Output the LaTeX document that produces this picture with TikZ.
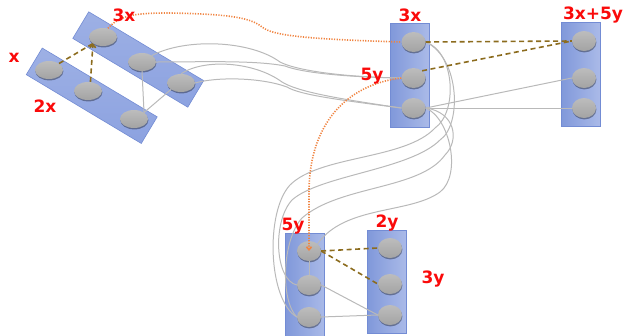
\documentclass[tikz,border=0pt]{standalone}
\usepackage{fontspec}
\setmainfont{DejaVu Sans}
\usetikzlibrary{shapes.geometric,arrows.meta,shadows}
\definecolor{barL}{RGB}{128,152,218}
\definecolor{barR}{RGB}{170,186,232}
\definecolor{barT}{RGB}{140,162,224}
\definecolor{barB}{RGB}{115,140,212}
\definecolor{olv}{RGB}{140,108,30}
\definecolor{org}{RGB}{240,132,66}
\definecolor{gln}{RGB}{185,185,185}
\definecolor{lbl}{RGB}{250,10,10}
\tikzset{
  bar/.style={rectangle, draw=barB, line width=0.6pt, left color=barL, right color=barR, inner sep=0pt},
  vbar/.style={bar, minimum width=39pt, minimum height=104pt},
  tbar/.style={rectangle, draw=barB, line width=0.6pt, top color=barT!85!white, bottom color=barT, inner sep=0pt,
     minimum width=134pt, minimum height=31pt, rotate=-30.9},
  cell/.style={ellipse, inner sep=0pt, top color=gray!52, bottom color=gray!72, draw=none,
     drop shadow={shadow xshift=0.4pt, shadow yshift=-1.4pt, opacity=0.35, fill=black}},
  tcell/.style={cell, minimum width=28pt, minimum height=18pt},
  vcell/.style={cell, minimum width=24pt, minimum height=20pt},
  lab/.style={text=lbl, font=\bfseries\fontsize{17}{17}\selectfont, inner sep=0pt},
  dsh/.style={draw=olv, line width=1.6pt, dash pattern=on 5pt off 3.5pt},
  dot/.style={draw=org, line width=1.6pt, dash pattern=on 1.2pt off 1.4pt},
  gl/.style={draw=gln, line width=1pt},
}
\begin{document}
\begin{tikzpicture}[x=1pt,y=-1pt]
\useasboundingbox (0,0) rectangle (624,335);
% bars
\node[tbar] (Abar) at (91.75,95.75) {};
\node[tbar] (Bbar) at (138.25,59.5) {};
\node[vbar] (Cbar) at (409.5,75) {};
\node[vbar] (Dbar) at (580.5,74.5) {};
\node[vbar, minimum height=108pt] (Ebar) at (305,287) {};
\node[vbar, minimum height=103pt] (Fbar) at (386.5,281.5) {};
% cells
\node[tcell] (A1) at (49,70) {};
\node[tcell] (A2) at (88,91) {};
\node[tcell] (A3) at (134,119) {};
\node[tcell] (B1) at (103,37) {};
\node[tcell] (B2) at (142,62) {};
\node[tcell] (B3) at (181,83) {};
\node[vcell] (C1) at (413.5,42) {};
\node[vcell] (C2) at (413.5,78) {};
\node[vcell] (C3) at (413.5,108) {};
\node[vcell] (D1) at (584,41) {};
\node[vcell] (D2) at (584,78) {};
\node[vcell] (D3) at (584,108) {};
\node[vcell] (E1) at (309,251) {};
\node[vcell] (E2) at (309,285) {};
\node[vcell] (E3) at (309,317) {};
\node[vcell] (F1) at (390,248) {};
\node[vcell] (F2) at (390,284) {};
\node[vcell] (F3) at (390,315) {};
% gray connections
\draw[gl] (A3.north east) -- (B2.south);
\draw[gl] (A3.north east) -- (B3.south west);
\draw[gl] (B2.north east) .. controls (185,38) and (250,40) .. (280,62) .. controls (295,70) and (340,77) .. (C2.west);
\draw[gl] (B2.east) .. controls (200,62) and (255,60) .. (285,66) .. controls (300,72) and (340,77) .. (C2.west);
\draw[gl] (B3.north) .. controls (205,58) and (255,62) .. (282,82) .. controls (298,92) and (340,99) .. (C3.west);
\draw[gl] (B3.east) .. controls (215,77) and (260,77) .. (287,87) .. controls (300,95) and (340,100) .. (C3.west);
\draw[gl] (C3.east) -- (D2.west);
\draw[gl] (C3.east) -- (D3.west);
\draw[gl] (C1.east) .. controls (455,52) and (458,112) .. (435,128) .. controls (405,160) and (320,155) .. (290,185) .. controls (265,212) and (268,300) .. (E3.west);
\draw[gl] (C1.east) .. controls (460,58) and (462,125) .. (440,140) .. controls (410,170) and (320,175) .. (292,200) .. controls (272,222) and (275,280) .. (E2.west);
\draw[gl] (C3.east) .. controls (455,112) and (460,140) .. (445,155) .. controls (420,190) and (340,185) .. (302,218) .. controls (282,240) and (280,300) .. (E3.west);
\draw[gl] (C3.east) .. controls (450,118) and (462,175) .. (440,192) .. controls (410,214) and (345,205) .. (E1.north east);
\draw[gl] (E1) -- (E2);
\draw[gl] (E2.east) -- (F3.west);
\draw[gl] (E3.east) -- (F3.west);
% olive dashed
\draw[dsh] (A1.north east) -- (B1.south west);
\draw[dsh, -{Straight Barb[length=3pt,width=6pt]}] (A2.75) -- (B1.south west);
\draw[dsh] (C1.east) -- (D1.west);
\draw[dsh] (C2.north east) -- (D1.west);
\draw[dsh] (E1.east) -- (F1.west);
\draw[dsh] (E1.east) -- (F2.west);
% orange dotted
\draw[dot] (B1.60) .. controls (120,14) and (140,13) .. (170,13) .. controls (225,14) and (250,17) .. (262,27) .. controls (272,35) and (300,39) .. (C1.west);
\draw[dot, -{Straight Barb[length=3pt,width=5pt]}] (C2.west) .. controls (345,85) and (310,125) .. (309,190) -- (E1.center);
% labels
\node[lab] at (14,58) {x};
\node[lab] at (45,106) {2x};
\node[lab] at (124,15) {3x};
\node[lab] at (410,15) {3x};
\node[lab] at (372,76) {5y};
\node[lab] at (593,15) {3x+5y};
\node[lab] at (293,226) {5y};
\node[lab] at (387,223) {2y};
\node[lab] at (433,279) {3y};
\end{tikzpicture}
\end{document}
